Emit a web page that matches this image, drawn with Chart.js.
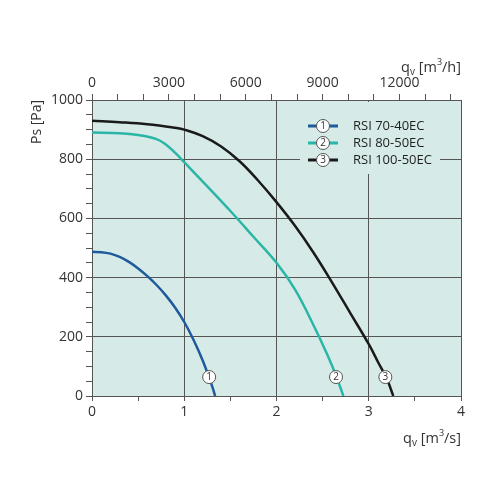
<!DOCTYPE html>
<html>
<head>
<meta charset="utf-8">
<script src="https://cdn.jsdelivr.net/npm/chart.js@4.4.0/dist/chart.umd.min.js"></script>
<style>html,body{margin:0;padding:0;background:#fff}</style>
</head>
<body>
<canvas id="fanChart" width="500" height="500"></canvas>
<script>
// fan curves, flow in m3/s, static pressure in Pa
const seriesNames = ['RSI 70-40EC', 'RSI 80-50EC', 'RSI 100-50EC'];
const seriesColors = ['#1f5a9c', '#2bb5a6', '#1a1a1a'];

const flow1 = [0, 0.1, 0.2, 0.3, 0.4, 0.5, 0.6, 0.7, 0.8, 0.9, 1.0, 1.1, 1.2, 1.3, 1.335];
const ps1 = [487, 486, 481, 470, 453, 431, 405, 375, 340, 299, 250, 190, 120, 35, 0];

const flow2 = [0, 0.3, 0.5, 0.7, 0.8, 0.9, 1.0, 1.25, 1.5, 1.75, 2.0, 2.2, 2.4, 2.55, 2.65, 2.725];
const ps2 = [890, 888, 882, 868, 850, 822, 790, 708, 625, 538, 450, 360, 240, 140, 65, 0];

const flow3 = [0, 0.3, 0.6, 0.9, 1.0, 1.2, 1.4, 1.6, 1.8, 2.0, 2.2, 2.4, 2.6, 2.8, 3.0, 3.1, 3.2, 3.266];
const ps3 = [930, 925, 918, 906, 900, 878, 843, 793, 728, 655, 575, 485, 385, 280, 175, 115, 55, 0];

// numbered markers on the curves
const markerFlow = [1.27, 2.645, 3.18];
const markerPs = [64, 64, 64];

// top axis, m3/h
const topTicks = [0, 1000, 2000, 3000, 4000, 5000, 6000, 7000, 8000, 9000, 10000, 11000, 12000, 13000, 14000];
const topLabels = [0, 3000, 6000, 9000, 12000];

const FONT = '"Open Sans", "DejaVu Sans", sans-serif';
const GRID = '#555';

function toPoints(xs, ys) {
    return xs.map((x, i) => ({ x: x, y: ys[i] }));
}

function numberCircle(ctx, x, y, n) {
    ctx.beginPath();
    ctx.arc(x, y, 6.5, 0, Math.PI * 2);
    ctx.fillStyle = '#fff';
    ctx.fill();
    ctx.lineWidth = 1;
    ctx.strokeStyle = '#555';
    ctx.stroke();
    ctx.fillStyle = '#333';
    ctx.font = '10px ' + FONT;
    ctx.textAlign = 'center';
    ctx.textBaseline = 'middle';
    ctx.fillText(String(n), x, y + 0.5);
}

// q_v [m^3/unit]
function flowTitle(ctx, xRight, y, unit) {
    ctx.fillStyle = '#333';
    ctx.textBaseline = 'alphabetic';
    ctx.textAlign = 'left';
    const parts = [
        { t: 'q', f: '14.5px ', dy: 0 },
        { t: 'v', f: '10px ', dy: 3 },
        { t: ' [m', f: '14.5px ', dy: 0 },
        { t: '3', f: '9px ', dy: -7 },
        { t: '/' + unit + ']', f: '14.5px ', dy: 0 }
    ];
    let w = 0;
    parts.forEach(p => { ctx.font = p.f + FONT; w += ctx.measureText(p.t).width; });
    let x = xRight - w;
    parts.forEach(p => {
        ctx.font = p.f + FONT;
        ctx.fillText(p.t, x, y + p.dy);
        x += ctx.measureText(p.t).width;
    });
}

const decorPlugin = {
    id: 'decor',
    beforeDraw(chart) {
        const a = chart.chartArea, ctx = chart.ctx;
        ctx.save();
        ctx.fillStyle = '#d6ebe8';
        ctx.fillRect(a.left, a.top, a.right - a.left, a.bottom - a.top);
        ctx.restore();
    },
    afterDatasetsDraw(chart) {
        const ctx = chart.ctx;
        const xs = chart.scales.x, ys = chart.scales.y;
        ctx.save();
        // markers on curves
        markerFlow.forEach((f, i) => {
            numberCircle(ctx, xs.getPixelForValue(f), ys.getPixelForValue(markerPs[i]), i + 1);
        });
        // legend box, hides grid lines behind it
        ctx.fillStyle = '#d6ebe8';
        ctx.fillRect(300, 102, 140, 72);
        seriesNames.forEach((name, i) => {
            const y = 126 + i * 17;
            ctx.strokeStyle = seriesColors[i];
            ctx.lineWidth = 3;
            ctx.beginPath();
            ctx.moveTo(308, y);
            ctx.lineTo(338, y);
            ctx.stroke();
            numberCircle(ctx, 323, y, i + 1);
            ctx.fillStyle = '#1e1e1e';
            ctx.font = '13px ' + FONT;
            ctx.textAlign = 'left';
            ctx.textBaseline = 'middle';
            ctx.fillText(name, 353, y);
        });
        // axis titles
        ctx.save();
        ctx.translate(37, 122);
        ctx.rotate(-Math.PI / 2);
        ctx.fillStyle = '#333';
        ctx.font = '14px ' + FONT;
        ctx.textAlign = 'center';
        ctx.textBaseline = 'middle';
        ctx.fillText('Ps [Pa]', 0, 0);
        ctx.restore();
        flowTitle(ctx, 461, 72, 'h');
        flowTitle(ctx, 461, 443, 's');
        ctx.restore();
    }
};

const ctx = document.getElementById('fanChart').getContext('2d');
const fanChart = new Chart(ctx, {
    type: 'scatter',
    data: {
        datasets: [
            { label: seriesNames[0], data: toPoints(flow1, ps1), borderColor: seriesColors[0] },
            { label: seriesNames[1], data: toPoints(flow2, ps2), borderColor: seriesColors[1] },
            { label: seriesNames[2], data: toPoints(flow3, ps3), borderColor: seriesColors[2] }
        ].map(d => Object.assign(d, {
            showLine: true,
            pointRadius: 0,
            borderWidth: 2.5,
            tension: 0.4,
            fill: false
        }))
    },
    options: {
        responsive: false,
        animation: false,
        layout: { padding: { left: 0, right: 39, top: 0, bottom: 0 } },
        plugins: { legend: { display: false }, tooltip: { enabled: false } },
        scales: {
            x: {
                type: 'linear',
                position: 'bottom',
                min: 0,
                max: 4,
                afterFit: s => { s.height = 104; },
                ticks: {
                    stepSize: 0.5,
                    autoSkip: false,
                    maxRotation: 0,
                    padding: 3,
                    color: '#333',
                    font: { family: FONT, size: 14 },
                    callback: v => Number.isInteger(v) ? String(v) : ''
                },
                grid: {
                    color: c => (c.tick && Number.isInteger(c.tick.value)) ? GRID : 'rgba(0,0,0,0)',
                    tickColor: GRID,
                    tickLength: 5,
                    lineWidth: 1
                },
                border: { color: GRID }
            },
            x2: {
                type: 'linear',
                position: 'top',
                min: 0,
                max: 14400,
                afterFit: s => { s.height = 100; },
                afterBuildTicks: s => { s.ticks = topTicks.map(v => ({ value: v })); },
                ticks: {
                    autoSkip: false,
                    maxRotation: 0,
                    padding: 3,
                    color: '#333',
                    font: { family: FONT, size: 14 },
                    callback: v => topLabels.includes(v) ? String(v) : ''
                },
                grid: { drawOnChartArea: false, color: GRID, tickLength: 6 },
                border: { color: GRID }
            },
            y: {
                type: 'linear',
                min: 0,
                max: 1000,
                afterFit: s => { s.width = 92; },
                ticks: {
                    stepSize: 50,
                    autoSkip: false,
                    padding: 3,
                    color: '#333',
                    font: { family: FONT, size: 14 },
                    callback: v => (v % 200 === 0) ? String(v) : ''
                },
                grid: {
                    color: c => (c.tick && c.tick.value % 200 === 0) ? GRID : 'rgba(0,0,0,0)',
                    tickColor: GRID,
                    tickLength: 6,
                    lineWidth: 1
                },
                border: { color: GRID }
            }
        }
    },
    plugins: [decorPlugin]
});
</script>
</body>
</html>
